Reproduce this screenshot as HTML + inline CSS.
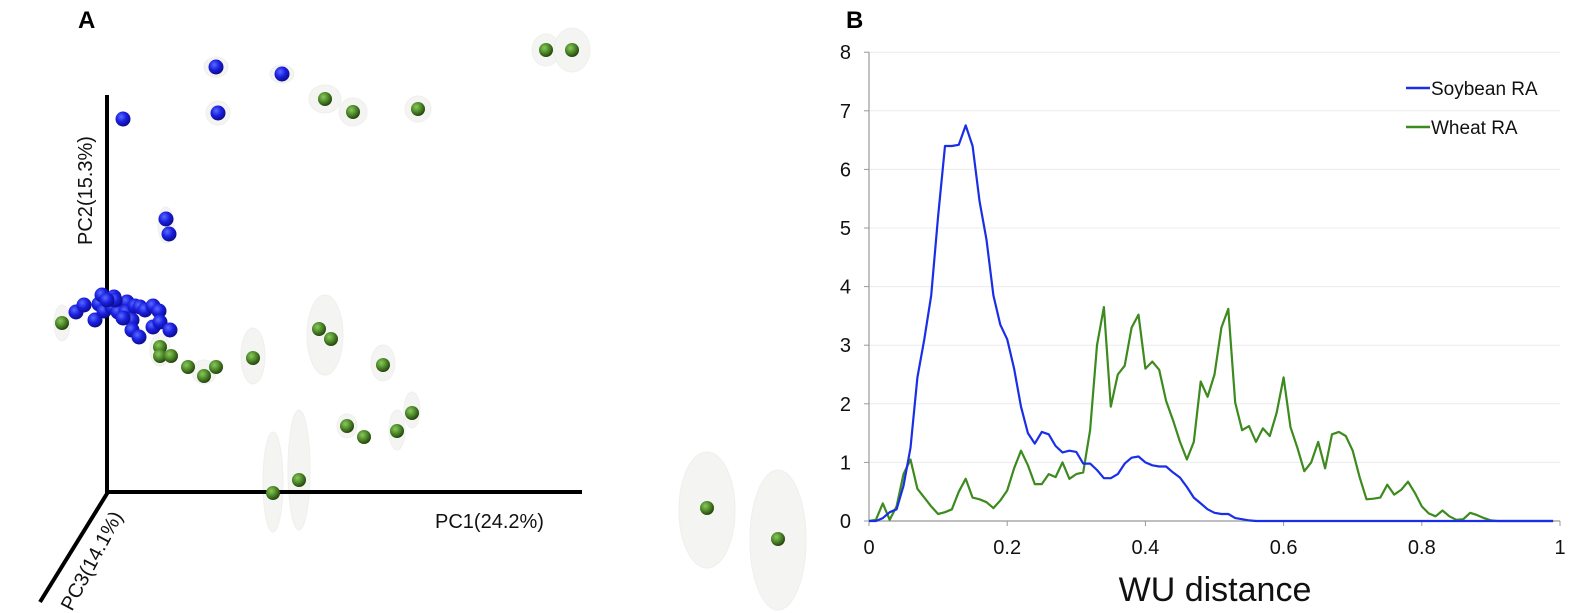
<!DOCTYPE html>
<html><head><meta charset="utf-8">
<style>
body{margin:0;background:#fff;}
svg{display:block;font-family:"Liberation Sans",Arial,sans-serif;}
</style></head>
<body>
<svg id="s" width="1575" height="613" viewBox="0 0 1575 613" xmlns="http://www.w3.org/2000/svg">
<defs>
<radialGradient id="gb" cx="0.38" cy="0.35" r="0.7"><stop offset="0" stop-color="#5a6bff"/><stop offset="0.5" stop-color="#1a1fe0"/><stop offset="1" stop-color="#0a0a80"/></radialGradient>
<radialGradient id="gg" cx="0.38" cy="0.35" r="0.7"><stop offset="0" stop-color="#8cc860"/><stop offset="0.5" stop-color="#4e8a28"/><stop offset="1" stop-color="#1f3a0c"/></radialGradient>
</defs>
<text x="78" y="28" font-size="24" font-weight="bold">A</text>
<text x="846" y="28" font-size="24" font-weight="bold">B</text>
<g id="ell" fill="#f4f5f2" stroke="#eef0ec" stroke-width="1"></g>
<g stroke="#000" stroke-width="4" fill="none">
<line x1="107" y1="95" x2="107" y2="492"/>
<line x1="105" y1="492" x2="582" y2="492"/>
<line x1="108" y1="492" x2="40" y2="602"/>
</g>
<text transform="translate(92,245) rotate(-90)" font-size="20" fill="#111">PC2(15.3%)</text>
<text x="435" y="528" font-size="20" fill="#111">PC1(24.2%)</text>
<text transform="translate(72,612) rotate(-62)" font-size="20" fill="#111">PC3(14.1%)</text>
<g id="sph"></g>
<g id="chart"></g>
</svg>
<script>
var NS="http://www.w3.org/2000/svg";
function el(t,a,p){var e=document.createElementNS(NS,t);for(var k in a)e.setAttribute(k,a[k]);p.appendChild(e);return e;}
var sph=document.getElementById('sph'),ell=document.getElementById('ell'),ch=document.getElementById('chart');
var ells=[[216,67,12,10],[282,74,12,9],[218,113,12,12],[325,99,16,14],[353,112,14,14],[418,109,13,13],[546,50,14,16],[572,50,18,22],[166,225,8,18],[62,323,8,18],[160,350,10,16],[253,356,12,28],[325,335,18,40],[383,363,12,18],[412,410,8,18],[347,426,10,12],[397,430,8,20],[273,482,10,50],[299,470,11,60],[707,510,28,58],[778,540,28,70],[204,372,12,12]];
ells.forEach(function(e){el('ellipse',{cx:e[0],cy:e[1],rx:e[2],ry:e[3]},ell);});
var blue=[[216,67],[282,74],[218,113],[123,119],[166,219],[169,234],[76,312],[84,305],[95,320],[99,304],[104,311],[102,295],[114,297],[112,307],[118,312],[127,302],[126,312],[132,320],[135,306],[140,307],[145,310],[153,306],[159,311],[153,327],[160,322],[170,330],[132,330],[139,337],[115,300],[123,318],[107,300]];
var green=[[546,50],[572,50],[325,99],[353,112],[418,109],[62,323],[160,347],[160,356],[171,356],[188,367],[204,376],[216,367],[253,358],[319,329],[331,339],[383,365],[412,413],[347,426],[364,437],[397,431],[273,493],[299,480],[707,508],[778,539]];
blue.forEach(function(p){el('circle',{cx:p[0],cy:p[1],r:7.5,fill:'url(#gb)'},sph);});
green.forEach(function(p){el('circle',{cx:p[0],cy:p[1],r:7,fill:'url(#gg)'},sph);});
var X0=869,X1=1560,Y0=521,YU=58.6;
function X(v){return X0+(X1-X0)*v;} function Y(v){return Y0-v*YU;}
for(var i=1;i<=8;i++)el('line',{x1:X0,y1:Y(i),x2:X1,y2:Y(i),stroke:'#ececec','stroke-width':1},ch);
el('line',{x1:X0,y1:Y(0),x2:X1,y2:Y(0),stroke:'#999','stroke-width':1.2},ch);
el('line',{x1:X0,y1:Y(0),x2:X0,y2:Y(8),stroke:'#999','stroke-width':1.2},ch);
for(var i=0;i<=8;i++){el('line',{x1:X0-5,y1:Y(i),x2:X0,y2:Y(i),stroke:'#999'},ch);
 var t=el('text',{x:X0-18,y:Y(i)+7,'font-size':20,'text-anchor':'end',fill:'#111'},ch);t.textContent=i;}
['0','0.2','0.4','0.6','0.8','1'].forEach(function(l,k){var v=k*0.2;el('line',{x1:X(v),y1:Y0,x2:X(v),y2:Y0+5,stroke:'#999'},ch);
 var t=el('text',{x:X(v),y:Y0+33,'font-size':20,'text-anchor':'middle',fill:'#111'},ch);t.textContent=l;});
var tt=el('text',{x:1215,y:601,'font-size':34,'text-anchor':'middle',fill:'#111'},ch);tt.textContent='WU distance';
var b=[0,0,0.05,0.15,0.2,0.6,1.25,2.45,3.1,3.85,5.2,6.4,6.4,6.42,6.75,6.4,5.45,4.8,3.85,3.35,3.1,2.6,1.95,1.5,1.32,1.52,1.48,1.28,1.17,1.2,1.18,0.98,0.98,0.87,0.73,0.73,0.8,0.98,1.08,1.1,1.0,0.95,0.93,0.93,0.83,0.74,0.58,0.4,0.3,0.2,0.14,0.12,0.12,0.05,0.03,0.01];
var g=[0,0.02,0.3,0.02,0.25,0.8,1.05,0.55,0.4,0.25,0.12,0.15,0.2,0.5,0.72,0.4,0.37,0.32,0.22,0.35,0.52,0.9,1.2,0.95,0.63,0.63,0.8,0.75,1.0,0.72,0.8,0.83,1.55,3.0,3.65,1.95,2.5,2.65,3.3,3.52,2.6,2.72,2.58,2.05,1.72,1.35,1.05,1.35,2.38,2.12,2.5,3.3,3.62,2.02,1.55,1.62,1.35,1.58,1.45,1.85,2.45,1.6,1.25,0.85,1.0,1.35,0.9,1.48,1.52,1.45,1.2,0.75,0.37,0.38,0.4,0.62,0.45,0.53,0.67,0.48,0.25,0.13,0.08,0.18,0.08,0.02,0.03,0.14,0.1,0.05,0.01];
function pts(a){var s=[];for(var i=0;i<=99;i++){var v=i<a.length?a[i]:0;s.push(X(i/100).toFixed(1)+','+Y(v).toFixed(1));}return s.join(' ');}
el('polyline',{points:pts(g),fill:'none',stroke:'#3d8a1e','stroke-width':2.2,'stroke-linejoin':'round'},ch);
el('polyline',{points:pts(b),fill:'none',stroke:'#1a2ee8','stroke-width':2.2,'stroke-linejoin':'round'},ch);
el('line',{x1:1406,y1:88,x2:1430,y2:88,stroke:'#1a2ee8','stroke-width':2.5},ch);
el('line',{x1:1406,y1:127,x2:1430,y2:127,stroke:'#3d8a1e','stroke-width':2.5},ch);
var l1=el('text',{x:1431,y:95,'font-size':19,fill:'#111'},ch);l1.textContent='Soybean RA';
var l2=el('text',{x:1431,y:134,'font-size':19,fill:'#111'},ch);l2.textContent='Wheat RA';
</script>
</body></html>
